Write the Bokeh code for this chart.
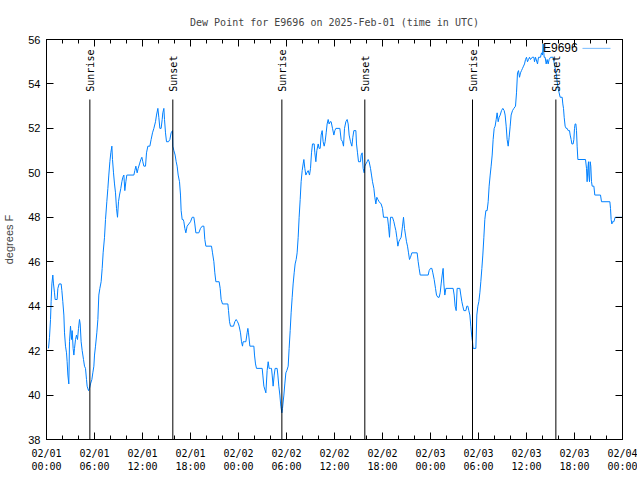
import pandas as pd
from math import pi
from bokeh.plotting import figure
from bokeh.models import (Range1d, DatetimeAxis, LinearAxis, FixedTicker, CustomJSTickFormatter,
                          DatetimeTickFormatter, Label, BoxAnnotation, ColumnDataSource)
from bokeh.embed import file_html
from bokeh.resources import INLINE

# ---------------- data (hours after 2025-02-01 00:00 UTC, dew point in F) ----------------
day1_hours = [0.25, 0.375, 0.5, 0.58, 0.67, 0.79, 0.875, 1.0, 1.08, 1.33,
              1.42, 1.58, 1.83, 1.92, 2.04, 2.17, 2.25, 2.375, 2.5, 2.58,
              2.67, 2.79, 2.875, 3.0, 3.125, 3.21, 3.33, 3.42, 3.5, 3.625,
              3.75, 3.875, 4.0, 4.125, 4.21, 4.33, 4.46, 4.625, 4.75, 4.875,
              5.0, 5.08, 5.25, 5.375, 5.5, 5.67, 5.79, 5.92, 6.0, 6.125,
              6.29, 6.42, 6.54, 6.67, 6.83, 6.96, 7.08, 7.25, 7.375, 7.54,
              7.67, 7.79, 7.92, 8.04, 8.17, 8.25, 8.375, 8.5, 8.625, 8.75,
              8.875, 9.0, 9.125, 9.29, 9.42, 9.54, 9.67, 9.79, 9.92, 10.04,
              10.17, 10.92, 11.04, 11.17, 11.33, 11.46, 11.625, 11.79, 11.92, 12.04,
              12.17,
              12.375, 12.5, 12.67, 12.92, 13.08, 13.25, 13.42, 13.625, 13.75, 13.92,
              14.04, 14.17, 14.33, 14.46, 14.54, 14.67, 14.75, 14.875, 15.0, 15.25,
              15.42, 15.58, 15.75, 15.79, 15.92, 16.08, 16.21, 16.33, 16.46, 16.625,
              16.75, 16.83, 16.96, 17.08, 17.17, 17.29, 17.42, 17.58, 17.79, 18.0,
              18.21, 18.42, 18.54, 18.67, 19.04, 19.25, 19.46, 19.67, 19.79, 19.92,
              20.625, 20.75, 20.92, 21.04, 21.17, 21.58, 21.71, 21.83, 22.0, 22.67,
              22.75, 22.875, 23.0, 23.375, 23.54, 23.71, 23.875, 24.0]
day1_dewpt = [42.1, 42.6, 43.4, 44.2, 45.0, 45.4, 45.0, 44.6, 44.3, 44.3,
              44.8, 45.0, 45.0, 44.7, 44.2, 43.6, 42.8, 42.2, 41.9, 41.5,
              40.9, 40.5, 42.4, 43.1, 42.5, 42.9, 42.1, 41.8, 42.1, 42.5,
              42.7, 42.5, 43.0, 43.4, 43.2, 42.4, 42.0, 41.6, 41.3, 41.2,
              40.7, 40.4, 40.2, 40.3, 40.5, 40.7, 41.0, 41.3, 41.8, 42.2,
              42.8, 43.4, 44.5, 44.8, 45.1, 45.7, 46.4, 47.1, 47.9, 48.7,
              49.3, 49.9, 50.5, 50.9, 51.2, 50.6, 50.0, 49.5, 49.1, 48.4,
              48.0, 48.7, 49.0, 49.3, 49.6, 49.8, 49.9, 49.2, 49.6, 49.9,
              49.9, 49.9, 50.1, 50.3, 50.0, 50.2, 50.4, 50.6, 50.7, 50.5,
              50.3,
              50.3, 50.9, 51.2, 51.2, 51.5, 51.8, 52.0, 52.3, 52.6, 52.9,
              52.5, 52.0, 52.0, 52.4, 52.7, 52.9, 52.4, 51.8, 51.4, 51.4,
              51.5, 51.8, 51.9, 51.2, 51.0, 50.8, 50.5, 50.3, 49.9, 49.6,
              49.0, 48.3, 47.9, 47.9, 47.8, 47.5, 47.3, 47.6, 47.7, 47.8,
              48.0, 48.0, 47.7, 47.3, 47.3, 47.5, 47.6, 47.6, 47.0, 46.7,
              46.7, 46.4, 46.0, 45.5, 45.1, 45.1, 44.8, 44.3, 44.1, 44.1,
              43.8, 43.3, 43.1, 43.1, 43.3, 43.4, 43.3, 43.2]

day2_hours = [24.08, 24.25, 24.375, 24.5, 24.58, 24.71, 24.92, 25.08, 25.17, 25.25,
              25.42, 25.92, 26.0, 26.125, 26.25, 26.96, 27.04, 27.17, 27.42, 27.58,
              27.71, 27.83, 28.0, 28.125, 28.21, 28.33, 28.46, 28.58, 28.83, 28.92,
              29.04, 29.17, 29.29, 29.42, 29.5, 29.67, 29.79, 29.92, 30.04, 30.21,
              30.33, 30.46, 30.58, 30.71, 30.83, 30.96, 31.08, 31.21, 31.33, 31.46,
              31.58, 31.71, 31.83, 31.96, 32.08, 32.17, 32.29, 32.42, 32.54, 32.71,
              32.875, 33.0, 33.125, 33.25, 33.46, 33.54, 33.67, 33.79, 33.96, 34.08,
              34.21, 34.33, 34.46, 34.58, 34.71, 34.83, 34.96, 35.08, 35.21, 35.33,
              35.46, 35.58, 35.75, 35.92, 36.04,
              36.17, 36.67, 36.83, 37.0, 37.125, 37.25, 37.42, 37.58, 37.71, 37.83,
              38.0, 38.17, 38.29, 38.42, 38.67, 38.75, 38.875, 39.0, 39.25, 39.33,
              39.46, 39.58, 39.71, 39.79, 39.92, 40.08, 40.21, 40.33, 40.5, 40.625,
              40.75, 40.92, 41.04, 41.17, 41.29, 41.42, 41.58, 41.83, 42.0, 42.125,
              42.625, 42.75, 42.875, 43.0, 43.25, 43.42, 43.54, 43.67, 43.79, 43.92,
              44.04, 44.17, 44.33, 44.5, 44.625, 44.75, 44.875, 45.0, 45.125, 45.25,
              45.375, 45.5, 45.67, 46.33, 46.46, 46.58, 46.71, 47.71, 47.83, 48.0,
              48.17, 48.29, 48.46, 48.625, 48.75, 48.92, 49.08, 49.21]
day2_dewpt = [43.1, 42.8, 42.4, 42.2, 42.4, 42.4, 42.4, 42.8, 43.0, 42.8,
              42.2, 42.2, 41.8, 41.4, 41.2, 41.2, 40.9, 40.4, 40.1, 41.1,
              41.5, 41.2, 41.2, 41.2, 40.9, 40.4, 40.9, 41.2, 41.2, 40.9,
              40.4, 40.0, 39.5, 39.2, 39.4, 40.0, 40.5, 41.0, 41.1, 41.3,
              42.1, 42.9, 43.7, 44.4, 45.0, 45.5, 45.9, 46.1, 46.4, 47.1,
              48.0, 48.8, 49.6, 50.1, 50.4, 50.6, 50.2, 49.9, 50.0, 50.1,
              49.9, 50.2, 50.9, 51.3, 51.3, 50.9, 50.5, 51.0, 51.3, 51.1,
              51.1, 51.7, 51.9, 51.4, 51.2, 51.4, 51.8, 52.2, 52.4, 52.2,
              52.3, 52.3, 52.0, 51.7, 51.9,
              52.0, 52.0, 51.5, 51.4, 51.2, 52.0, 52.3, 52.4, 52.2, 51.7,
              51.4, 51.2, 51.6, 51.9, 51.9, 51.3, 50.9, 50.5, 50.5, 50.8,
              50.9, 50.2, 50.0, 50.3, 50.4, 50.5, 50.6, 50.5, 50.2, 49.9,
              49.6, 49.3, 48.9, 48.6, 48.9, 48.8, 48.7, 48.6, 48.4, 48.0,
              48.0, 47.6, 47.1, 48.0, 48.0, 47.8, 47.6, 47.4, 47.1, 46.7,
              46.9, 47.0, 47.1, 47.6, 48.0, 47.5, 47.2, 46.9, 46.7, 46.4,
              46.1, 46.2, 46.4, 46.4, 46.0, 45.7, 45.4, 45.4, 45.6, 45.7,
              45.7, 45.5, 45.2, 44.8, 44.5, 44.4, 44.4, 44.6]

day3_hours = [49.33, 49.46, 49.58, 49.67, 49.79, 49.92, 50.83, 50.96, 51.08, 51.21,
              51.33, 51.67, 51.79, 51.92, 52.04, 52.17, 52.42, 52.54, 52.67, 52.79,
              52.92, 53.04, 53.17, 53.25, 53.33, 53.67, 53.79, 53.92, 54.04, 54.17,
              54.29, 54.42, 54.54, 54.67, 54.79, 54.92, 55.08, 55.21, 55.33, 55.46,
              55.58, 55.71, 55.83, 55.96, 56.08, 56.21, 56.33, 56.46, 56.58, 56.71,
              56.875, 57.04, 57.21, 57.33, 57.46, 57.58, 57.71, 57.83, 57.96, 58.08,
              58.25, 58.42, 58.625, 58.75, 58.875, 59.0, 59.125, 59.25, 59.375, 59.5,
              59.625, 59.75, 59.875, 60.0, 60.125, 60.25, 60.375,
              60.5, 60.71, 60.92, 61.0, 61.125, 61.375, 61.5, 61.75, 61.875, 62.0,
              62.08, 62.21, 62.33, 62.46, 62.58, 62.71, 62.83, 63.0, 63.33, 63.54,
              63.67, 63.75, 63.83, 63.96, 64.08, 64.21, 64.46, 64.54, 64.625, 64.71,
              64.83, 64.96, 65.08, 65.21, 65.375, 65.46, 65.58, 65.67, 65.83, 65.92,
              66.0, 66.08, 66.17, 66.25, 66.33, 66.42, 67.375, 67.5, 67.58, 67.67,
              67.75, 67.79, 67.875, 67.96, 68.04, 68.125, 68.21, 68.42, 68.54, 68.67,
              69.25, 69.375, 70.42, 70.5, 70.58, 70.67, 70.75, 70.92, 71.08, 71.42,
              72.0]
day3_dewpt = [45.0, 45.4, 45.7, 45.0, 44.5, 44.8, 44.8, 44.5, 44.0, 43.8,
              44.8, 44.8, 44.5, 44.2, 44.0, 43.8, 43.8, 44.0, 44.0, 43.8,
              43.6, 43.1, 42.6, 42.4, 42.1, 42.1, 43.6, 44.0, 44.2, 44.6,
              45.1, 45.7, 46.3, 47.1, 47.9, 48.3, 48.3, 48.7, 49.4, 49.9,
              50.3, 50.8, 51.5, 52.0, 52.1, 52.4, 52.7, 52.3, 52.5, 52.6,
              52.8, 52.9, 52.8, 52.6, 52.1, 51.5, 51.2, 51.6, 52.1, 52.6,
              52.8, 52.9, 53.0, 53.6, 54.5, 54.6, 54.3, 54.5, 54.6, 54.7,
              54.8, 54.9, 55.1, 55.2, 55.0, 55.1, 55.2,
              55.1, 55.2, 55.2, 55.0, 55.2, 54.9, 55.2, 55.2, 55.4, 55.3,
              55.8, 55.2, 55.2, 54.9, 55.1, 54.9, 55.1, 55.2, 55.2, 54.8,
              54.5, 54.4, 54.1, 53.8, 53.6, 53.4, 53.4, 53.1, 52.9, 52.5,
              52.1, 52.0, 52.0, 51.9, 51.9, 51.7, 51.5, 51.3, 51.3, 51.5,
              52.0, 52.2, 52.2, 51.9, 51.2, 50.6, 50.6, 50.2, 49.6, 50.2,
              50.5, 49.9, 49.6, 50.5, 50.3, 49.6, 49.4, 49.4, 49.0, 49.0,
              49.0, 48.7, 48.7, 48.4, 47.9, 47.7, 47.8, 47.8, 48.0, 48.0,
              48.0]

sunrise_hours = [5.42, 29.42, 53.25]
sunset_hours = [15.79, 39.79, 63.67]
x_major_hours = [0, 6, 12, 18, 24, 30, 36, 42, 48, 54, 60, 66, 72]
x_minor_hours = list(range(0, 73, 2))
y_ticks = [38, 40, 42, 44, 46, 48, 50, 52, 54, 56]
series_name = "E9696"

start = pd.Timestamp("2025-02-01 00:00")
MS0 = start.value // 10**6
HOUR = 3600000


def to_ms(hours):
    return [MS0 + h * HOUR for h in hours]


all_hours = day1_hours + day2_hours + day3_hours
all_dewpt = day1_dewpt + day2_dewpt + day3_dewpt
src = ColumnDataSource(data=dict(t=to_ms(all_hours), v=all_dewpt))

MONO = "DejaVu Sans Mono"
SANS = "Liberation Sans"
LINE = "#0080ff"

p = figure(frame_width=576, frame_height=400, x_axis_type="datetime",
           output_backend="svg", toolbar_location=None,
           x_range=Range1d(MS0, MS0 + 72 * HOUR), y_range=Range1d(38, 56),
           min_border_left=38, min_border_right=15, min_border_top=39, min_border_bottom=0,
           title="Dew Point for E9696 on 2025-Feb-01 (time in UTC)")
p.title.align = "center"
p.title.text_font = MONO
p.title.text_font_size = "10px"
p.title.text_font_style = "normal"
p.title.standoff = 24
p.grid.visible = False
p.outline_line_color = "black"
p.background_fill_color = "white"
p.border_fill_color = "white"

xticker = FixedTicker(ticks=to_ms(x_major_hours), minor_ticks=to_ms(x_minor_hours))
fmt = "%m/%d\n%H:%M"
xfmt = DatetimeTickFormatter(microseconds=fmt, milliseconds=fmt, seconds=fmt, minsec=fmt,
                             minutes=fmt, hourmin=fmt, hours=fmt, days=fmt, months=fmt,
                             years=fmt)
yticker = FixedTicker(ticks=y_ticks, minor_ticks=[])
blank = CustomJSTickFormatter(code="return ''")

xa = p.xaxis[0]
xa.ticker = xticker
xa.formatter = xfmt
ya = p.yaxis[0]
ya.ticker = yticker
ya.axis_label = "degrees F"

for ax in (xa, ya):
    ax.major_tick_in = 7
    ax.major_tick_out = 0
    ax.minor_tick_in = 4
    ax.minor_tick_out = 0
    ax.axis_line_color = "black"
    ax.major_tick_line_color = "black"
    ax.minor_tick_line_color = "black"
    ax.major_label_text_color = "black"

xa.major_label_text_font = MONO
xa.major_label_text_font_size = "10px"
xa.major_label_standoff = 8
ya.major_label_text_font = SANS
ya.major_label_text_font_size = "11px"
ya.major_label_standoff = 6
ya.axis_label_text_font = SANS
ya.axis_label_text_font_size = "11px"
ya.axis_label_text_font_style = "normal"
ya.axis_label_standoff = 10

top = DatetimeAxis(ticker=xticker, formatter=blank, major_label_text_font_size="0px",
                   major_label_standoff=0, major_tick_in=7, major_tick_out=0,
                   minor_tick_in=4, minor_tick_out=0, axis_line_color="black")
p.add_layout(top, "above")
right = LinearAxis(ticker=yticker, formatter=blank, major_label_text_font_size="0px",
                   major_label_standoff=0, major_tick_in=7, major_tick_out=0,
                   minor_tick_in=0, minor_tick_out=0, axis_line_color="black")
p.add_layout(right, "right")

# data line
p.line(x="t", y="v", source=src, line_color=LINE, line_width=1)

# sunrise / sunset markers
sun_line_top = 53.3
sun_label_y = 53.65
for hours, name in ((sunrise_hours, "Sunrise"), (sunset_hours, "Sunset")):
    xs = to_ms(hours)
    p.segment(x0=xs, y0=[38] * len(xs), x1=xs, y1=[sun_line_top] * len(xs),
              line_color="black", line_width=1)
    p.text(x=[x + 0.12 * HOUR for x in xs], y=[sun_label_y] * len(xs), text=[name] * len(xs),
           angle=pi / 2, text_align="left", text_baseline="middle", text_font_size="10px",
           text_color="black", text_font={"value": MONO})

# key: label on the left, sample line on the right (gnuplot style), top right corner
key_y = 55.6
p.add_layout(Label(x=MS0 + 66.4 * HOUR, y=key_y, text=series_name,
                   text_align="right", text_baseline="middle", text_font=SANS,
                   text_font_size="12px", text_color="black"))
p.add_layout(BoxAnnotation(left=MS0 + 67.0 * HOUR, right=MS0 + 70.5 * HOUR,
                           top=key_y, bottom=key_y, fill_alpha=0,
                           line_color=LINE, line_width=1))

open("out.html", "w").write(file_html(p, INLINE))
